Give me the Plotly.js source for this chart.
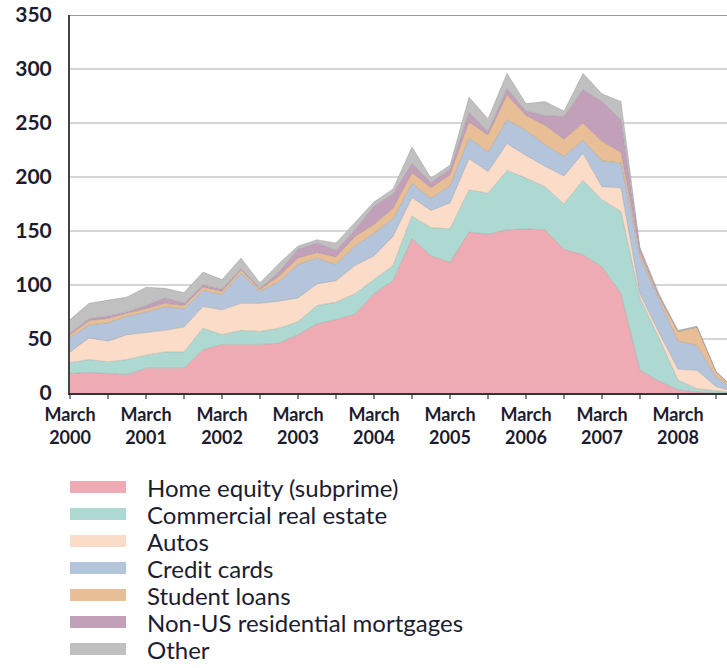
<!DOCTYPE html>
<html>
<head>
<meta charset="utf-8">
<script src="https://cdn.plot.ly/plotly-3.0.1.min.js"></script>
<style>
html,body{margin:0;padding:0;background:#fff;}
#chart{width:727px;height:668px;}
</style>
</head>
<body>
<div id="chart"></div>
<script>
// Quarterly observations, March 2000 (index 0) through December 2008 (index 35)
const quarterIndex = [0,1,2,3,4,5,6,7,8,9,10,11,12,13,14,15,16,17,18,19,20,21,22,23,24,25,26,27,28,29,30,31,32,33,34,35];
const yearLabels = ["2000","2001","2002","2003","2004","2005","2006","2007","2008"];

const seriesNames = ["Home equity (subprime)","Commercial real estate","Autos","Credit cards","Student loans","Non-US residential mortgages","Other"];
const seriesColors = ["#EEABB4","#AED9D2","#FADCC8","#B4C4DA","#E8BE96","#C3A0B9","#C0C0C0"];

const homeEquity   = [18,19,18,17,23,23,23,40,45,45,45,46,54,64,68,73,92,104,143,127,121,149,147,151,152,151,133,128,117,92,21,11,3,1,0,0];
const commercialRE = [10,12,11,14,12,15,15,20,9,13,12,14,12,17,16,19,13,14,21,26,31,39,38,55,47,40,42,69,62,76,67,40,9,3,2,0];
const autos        = [10,20,19,23,21,20,23,20,23,25,26,25,22,20,20,26,22,27,17,16,24,29,20,25,21,19,26,25,12,22,4,5,10,17,4,1];
const creditCards  = [13,12,17,17,19,22,17,15,14,28,11,18,31,24,15,18,21,16,13,11,16,19,18,22,23,20,18,12,24,23,34,30,26,23,9,1];
const studentLoans = [3,4,4,3,3,3,3,3,3,3,2,5,6,5,7,9,8,10,10,10,10,15,16,23,14,18,16,16,18,10,4,3,9,17,5,1];
const nonUSMortg   = [1,2,2,1,3,5,2,2,2,1,1,4,8,9,6,6,17,13,9,5,5,9,3,6,4,9,21,31,37,30,3,1,0,0,0,0];
const otherDebt    = [13,14,15,14,17,9,10,12,9,10,5,8,3,3,7,7,4,5,15,4,4,14,12,14,7,13,5,15,7,17,2,2,1,1,0,0];

const seriesValues = [homeEquity, commercialRE, autos, creditCards, studentLoans, nonUSMortg, otherDebt];

const traces = seriesValues.map((vals, i) => ({
  type: 'scatter',
  mode: 'lines',
  x: quarterIndex,
  y: vals,
  name: seriesNames[i],
  stackgroup: 'one',
  fillcolor: seriesColors[i],
  line: {color: 'rgba(90,90,90,0.35)', width: 0.6},
  hoverinfo: 'skip',
  showlegend: false
}));

// tick labels: every half year a tick, March labels each year
const tickVals = [];
const tickText = [];
for (let q = 0; q <= 34; q += 2) {
  tickVals.push(q);
  tickText.push(q % 4 === 0 ? "March<br>" + yearLabels[q / 4] : "");
}

const fontFam = 'Lato, "Open Sans", sans-serif';
const textColor = '#1c1c30';

// manual legend below the chart
const plotLeft = 70, plotW = 657, plotTop = 15, plotH = 378;
const px2x = px => (px - plotLeft) / plotW;
const py2y = py => (plotTop + plotH - py) / plotH;
const shapes = [];
const annotations = [];
seriesNames.forEach((name, i) => {
  const cy = 487 + i * 27;
  shapes.push({type: 'rect', xref: 'paper', yref: 'paper',
    x0: px2x(70), x1: px2x(126), y0: py2y(cy - 6), y1: py2y(cy + 6),
    fillcolor: seriesColors[i], line: {width: 0}});
  annotations.push({xref: 'paper', yref: 'paper', x: px2x(145), y: py2y(cy),
    xanchor: 'left', yanchor: 'middle', showarrow: false, text: name,
    font: {family: fontFam, size: 24, color: textColor}});
});
// top frame line at 350
shapes.push({type: 'line', xref: 'paper', yref: 'y', x0: 0, x1: 1, y0: 350, y1: 350,
  line: {color: '#9a9a9a', width: 2}});

const layout = {
  width: 727, height: 668,
  margin: {l: 70, r: 0, t: 15, b: 275},
  paper_bgcolor: '#ffffff', plot_bgcolor: '#ffffff',
  showlegend: false,
  xaxis: {
    range: [0, 34.58], tickmode: 'array', tickvals: tickVals, ticktext: tickText,
    ticks: 'outside', ticklen: 4, tickwidth: 1.5, tickcolor: '#888',
    showline: true, linecolor: '#333', linewidth: 2, showgrid: false, zeroline: false,
    tickfont: {family: fontFam, size: 18, color: textColor, weight: 700}
  },
  yaxis: {
    range: [0, 350], dtick: 50, tick0: 0, ticks: '',
    showline: true, linecolor: '#444', linewidth: 2,
    showgrid: true, gridcolor: '#d6d6d6', gridwidth: 1.5, zeroline: false,
    ticklabelstandoff: 12,
    tickfont: {family: fontFam, size: 21, color: textColor, weight: 700}
  },
  shapes: shapes,
  annotations: annotations
};

Plotly.newPlot('chart', traces, layout, {displayModeBar: false, staticPlot: true});
</script>
</body>
</html>
